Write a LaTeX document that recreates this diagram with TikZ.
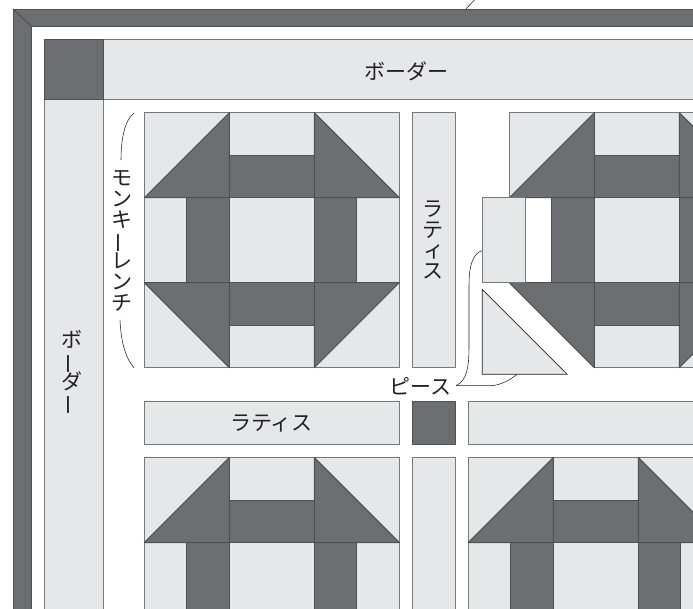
\documentclass[tikz,border=0pt]{standalone}
\usepackage{fontspec}
\setmainfont{Noto Sans CJK JP}
\definecolor{dk}{HTML}{6D6E71}
\definecolor{lt}{HTML}{E6E7E8}
\definecolor{edgeD}{HTML}{4F5052}
\definecolor{edgeL}{HTML}{76777A}
\definecolor{ink}{HTML}{231F20}
\newcommand{\vbar}{\smash{\rotatebox[origin=c]{90}{ー}}}
\newcommand{\vsmall}[1]{\hspace*{3pt}#1}
\tikzset{
  lightp/.style={fill=lt,draw=edgeL,line width=1pt,line join=round},
  darkp/.style={fill=dk,draw=edgeD,line width=1pt,line join=round},
  seam/.style={draw=edgeD,line width=1pt},
  leader/.style={draw=ink,line width=0.55pt},
  hlabel/.style={font=\fontsize{21}{21}\selectfont,text=ink,inner sep=0pt},
  vlabel/.style={font=\fontsize{21}{20.8}\selectfont,text=ink,inner sep=0pt,align=center},
}
\newcommand{\wrenchtop}{%
  \fill[lt] (0,0) rectangle (255,85);
  \draw[lightp] (0,0) rectangle (85,85);
  \draw[lightp] (85,0) rectangle (170,42.5);
  \draw[lightp] (170,0) rectangle (255,85);
  \draw[darkp] (0,85) -- (85,0) -- (85,85) -- cycle;
  \draw[darkp] (85,42.5) rectangle (170,85);
  \draw[darkp] (170,0) -- (255,85) -- (170,85) -- cycle;
}
\newcommand{\wrenchmid}{%
  \draw[lightp] (0,85) rectangle (255,170);
  \draw[darkp] (42.5,85) rectangle (85,170);
  \draw[darkp] (170,85) rectangle (212.5,170);
}
\newcommand{\wrenchbottom}{%
  \draw[lightp] (0,170) rectangle (255,255);
  \draw[darkp] (0,170) -- (85,170) -- (85,255) -- cycle;
  \draw[darkp] (85,170) rectangle (170,212.5);
  \draw[darkp] (170,170) -- (255,170) -- (170,255) -- cycle;
}
\begin{document}
\begin{tikzpicture}[x=1pt,y=-1pt]
\useasboundingbox (0,0) rectangle (693,608);
\clip (0,0) rectangle (693,608);
% outer frame
\draw[darkp] (13,9) -- (700,9) -- (700,26) -- (31,26) -- (31,615) -- (13,615) -- cycle;
\draw[seam] (13,9) -- (31,26);
% border
\draw[lightp] (103.5,39.5) rectangle (700,99);
\draw[lightp] (44,99) rectangle (103.5,615);
\draw[darkp] (44,39.5) rectangle (103.5,99);
% block 1
\begin{scope}[shift={(144.3,112.7)}]
  \wrenchmid \wrenchtop \wrenchbottom
\end{scope}
% lattice
\draw[lightp] (412.7,112.7) rectangle (455.4,367.7);
\draw[lightp] (144.3,401.7) rectangle (399.3,444);
\draw[darkp] (412.7,401.7) rectangle (455.4,444);
\draw[lightp] (468.3,401.7) rectangle (700,444);
\draw[lightp] (412.7,457.5) rectangle (455.4,615);
% block 2 (top right), with pieces taken apart
\begin{scope}[shift={(509.3,112.7)}]
  \draw[lightp] (85,85) rectangle (300,170);
  \draw[darkp] (42.5,85) rectangle (85,170);
  \draw[darkp] (170,85) rectangle (212.5,170);
  \wrenchtop
  \draw[lightp] (85,170) rectangle (170,255);
  \draw[lightp] (170,170) rectangle (255,255);
  \draw[darkp] (0,170) -- (85,170) -- (85,255) -- cycle;
  \draw[darkp] (85,170) rectangle (170,212.5);
  \draw[darkp] (170,170) -- (255,170) -- (170,255) -- cycle;
\end{scope}
% loose pieces
\draw[lightp] (482.3,197.7) rectangle (525,282.7);
\draw[lightp,draw=ink,line width=0.7pt] (482.3,289.5) -- (482.3,374.3) -- (567.3,374.3) -- cycle;
% block 3
\begin{scope}[shift={(144.3,457.5)}]
  \wrenchmid \wrenchtop
\end{scope}
% block 4
\begin{scope}[shift={(468.3,457.5)}]
  \wrenchmid \wrenchtop
\end{scope}
% labels
\node[hlabel] (bh) at (406,71) {ボーダー};
\node[vlabel] (bv) at (71.7,370) {ボ\\\vbar\\ダ\\\vbar};
\node[vlabel] (mw) at (122,241) {モ\\ン\\キ\\\vbar\\レ\\ン\\チ};
\node[vlabel] (lv) at (432.5,240) {ラ\\テ\\\vsmall{ィ}\\ス};
\node[hlabel] (lh) at (271.5,423) {ラティス};
\node[hlabel] (pc) at (420.5,386) {ピース};
% leaders
\coordinate (q1) at (456,385.7);
\coordinate (p1) at (481.7,250.7);
\coordinate (p2) at (517,374.3);
\coordinate (m1) at (134,113);
\coordinate (m2) at (121,160);
\coordinate (m3) at (120,320);
\coordinate (m4) at (134,367.7);
\coordinate (t1) at (466,8.7);
\coordinate (t2) at (474.5,0);
\draw[leader] (q1) .. controls (467,380) and (469,368) .. (469,345) -- (469,285) .. controls (469,265) and (473,254) .. (p1);
\draw[leader] (q1) -- (490,385.7) .. controls (500,385.7) and (510,380) .. (p2);
\draw[leader] (m1) .. controls (125,120) and (121,138) .. (m2);
\draw[leader] (m3) .. controls (121,345) and (127,360) .. (m4);
\draw[leader] (t1) -- (t2);
\end{tikzpicture}
\end{document}
